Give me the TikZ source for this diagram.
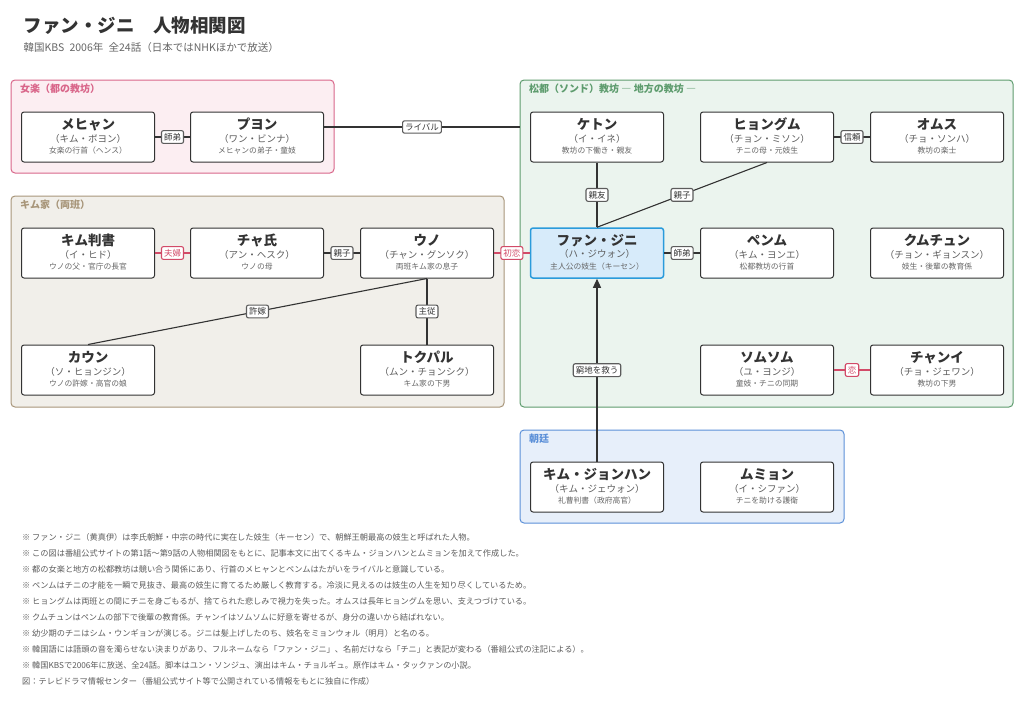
\documentclass[tikz,border=0pt]{standalone}
\usepackage{fontspec}
\setmainfont{Noto Sans CJK JP}
\usetikzlibrary{arrows.meta}
\definecolor{pinkbd}{HTML}{D9668A}\definecolor{pinkbg}{HTML}{FCEEF2}
\definecolor{tanbd}{HTML}{A8967A}\definecolor{tanbg}{HTML}{F1EFEA}
\definecolor{grnbd}{HTML}{5E9C6E}\definecolor{grnbg}{HTML}{EBF4EE}
\definecolor{blubd}{HTML}{5C90D8}\definecolor{blubg}{HTML}{E7EFFA}
\definecolor{herobd}{HTML}{2A9BDB}\definecolor{herobg}{HTML}{D7EBFA}
\definecolor{redtx}{HTML}{D24A68}
\definecolor{ink}{HTML}{333333}
\tikzset{
  group/.style={draw=#1bd,fill=#1bg,rounded corners=4pt,line width=1pt},
  grouplbl/.style={anchor=north west,text=#1bd,font=\fontsize{10}{10}\selectfont\bfseries,inner sep=0pt},
  person/.style={draw=ink,fill=white,rounded corners=2.5pt,line width=1pt,minimum width=133pt,minimum height=50pt,inner sep=0pt},
  rel/.style={draw=ink!80,fill=white,rounded corners=2pt,font=\fontsize{8.5}{8.5}\selectfont,text=ink,inner sep=2.5pt},
  love/.style={rel,draw=redtx,text=redtx},
  link/.style={draw=ink,line width=1.1pt},
  lovelink/.style={draw=redtx,line width=1.1pt}
}
\newcommand{\chara}[6][person]{%
  \node[#1] (#2) at (#3) {};
  \node[font=\fontsize{13.5}{13.5}\selectfont\bfseries,text=ink] at ([yshift=-13pt]#2.north) {#4};
  \node[font=\fontsize{9.5}{9.5}\selectfont,text=ink!80] at ([yshift=-27pt]#2.north) {#5};
  \node[font=\fontsize{7.8}{7.8}\selectfont,text=ink!75] at ([yshift=-39pt]#2.north) {#6};}
\begin{document}
\begin{tikzpicture}[x=1pt,y=-1pt]
\useasboundingbox[fill=white] (0,0) rectangle (1024,704);
% title
\node[anchor=west,font=\fontsize{18.5}{18.5}\selectfont\bfseries,text=ink] (title) at (20,26) {ファン・ジニ\quad 人物相関図};
\node[anchor=west,font=\fontsize{10.5}{10.5}\selectfont,text=ink!75] (sub) at (20,48) {韓国KBS\enspace 2006年\enspace 全24話（日本ではNHKほかで放送）};
% groups
\draw[group=pink] (11,80) rectangle (334,173);
\node[grouplbl=pink] at (20,84) {女楽（都の教坊）};
\draw[group=tan] (11,196) rectangle (504,407);
\node[grouplbl=tan] at (20,200) {キム家（両班）};
\draw[group=grn] (520,80) rectangle (1013,407);
\coordinate (grnw) at (520,127);
\node[grouplbl=grn] at (529,84) {松都（ソンド）教坊 ― 地方の教坊 ―};
\draw[group=blu] (520,430) rectangle (844,523);
\node[grouplbl=blu] at (529,434) {朝廷};
% people
\chara{mehyan}{88,137}{メヒャン}{（キム・ボヨン）}{女楽の行首（ヘンス）}
\chara{puyon}{257,137}{プヨン}{（ワン・ビンナ）}{メヒャンの弟子・童妓}
\chara{kimpan}{88,253}{キム判書}{（イ・ヒド）}{ウノの父・官庁の長官}
\chara{chya}{257,253}{チャ氏}{（アン・ヘスク）}{ウノの母}
\chara{uno}{427,253}{ウノ}{（チャン・グンソク）}{両班キム家の息子}
\chara{kaun}{88,370}{カウン}{（ソ・ヒョンジン）}{ウノの許嫁・高官の娘}
\chara{tokpal}{427,370}{トクパル}{（ムン・チョンシク）}{キム家の下男}
\chara{keton}{597,137}{ケトン}{（イ・イネ）}{教坊の下働き・親友}
\chara{hyongum}{767,137}{ヒョングム}{（チョン・ミソン）}{チニの母・元妓生}
\chara{omusu}{937,137}{オムス}{（チョ・ソンハ）}{教坊の楽士}
\chara[person,draw=herobd,fill=herobg,line width=1.5pt]{jini}{597,253}{ファン・ジニ}{（ハ・ジウォン）}{主人公の妓生（キーセン）}
\chara{pemu}{767,253}{ペンム}{（キム・ヨンエ）}{松都教坊の行首}
\chara{kumchun}{937,253}{クムチュン}{（チョン・ギョンスン）}{妓生・後輩の教育係}
\chara{somusomu}{767,370}{ソムソム}{（ユ・ヨンジ）}{童妓・チニの同期}
\chara{chanyi}{937,370}{チャンイ}{（チョ・ジェワン）}{教坊の下男}
\chara{jonghan}{597,487}{キム・ジョンハン}{（キム・ジェウォン）}{礼曹判書（政府高官）}
\chara{muyon}{767,487}{ムミョン}{（イ・シファン）}{チニを助ける護衛}
% relations
\draw[link] (mehyan) -- node[rel] {師弟} (puyon);
\draw[link] ([yshift=10pt]puyon.east) -- node[rel] {ライバル} (grnw);
\draw[lovelink] (kimpan) -- node[love] {夫婦} (chya);
\draw[link] (chya) -- node[rel] {親子} (uno);
\draw[lovelink] (uno) -- node[love] {初恋} (jini);
\draw[link] (uno.south) -- node[rel] {許嫁} (kaun.north);
\draw[link] (uno) -- node[rel] {主従} (tokpal);
\draw[link] (keton) -- node[rel] {親友} (jini);
\draw[link] (hyongum.south) -- node[rel] {親子} (jini.north);
\draw[link] (hyongum) -- node[rel] {信頼} (omusu);
\draw[link] (jini) -- node[rel] {師弟} (pemu);
\draw[lovelink] (somusomu) -- node[love] {恋} (chanyi);
\draw[link,-{Triangle[length=9pt,width=8pt]}] (jonghan) -- node[rel] {窮地を救う} (jini);
% notes
\begin{scope}[every node/.style={anchor=west,font=\fontsize{8.2}{8.2}\selectfont,text=ink!80,inner sep=0pt}]
\node at (22,537) {※ ファン・ジニ（黄真伊）は李氏朝鮮・中宗の時代に実在した妓生（キーセン）で、朝鮮王朝最高の妓生と呼ばれた人物。};
\node at (22,553) {※ この図は番組公式サイトの第1話～第9話の人物相関図をもとに、記事本文に出てくるキム・ジョンハンとムミョンを加えて作成した。};
\node at (22,569) {※ 都の女楽と地方の松都教坊は競い合う関係にあり、行首のメヒャンとペンムはたがいをライバルと意識している。};
\node at (22,585) {※ ペンムはチニの才能を一瞬で見抜き、最高の妓生に育てるため厳しく教育する。冷淡に見えるのは妓生の人生を知り尽くしているため。};
\node at (22,601) {※ ヒョングムは両班との間にチニを身ごもるが、捨てられた悲しみで視力を失った。オムスは長年ヒョングムを思い、支えつづけている。};
\node at (22,617) {※ クムチュンはペンムの部下で後輩の教育係。チャンイはソムソムに好意を寄せるが、身分の違いから結ばれない。};
\node at (22,633) {※ 幼少期のチニはシム・ウンギョンが演じる。ジニは髪上げしたのち、妓名をミョンウォル（明月）と名のる。};
\node at (22,649) {※ 韓国語には語頭の音を濁らせない決まりがあり、フルネームなら「ファン・ジニ」、名前だけなら「チニ」と表記が変わる（番組公式の注記による）。};
\node at (22,665) {※ 韓国KBSで2006年に放送、全24話。脚本はユン・ソンジュ、演出はキム・チョルギュ。原作はキム・タックァンの小説。};
\node at (22,681) {図：テレビドラマ情報センター（番組公式サイト等で公開されている情報をもとに独自に作成）};
\end{scope}
\end{tikzpicture}
\end{document}
